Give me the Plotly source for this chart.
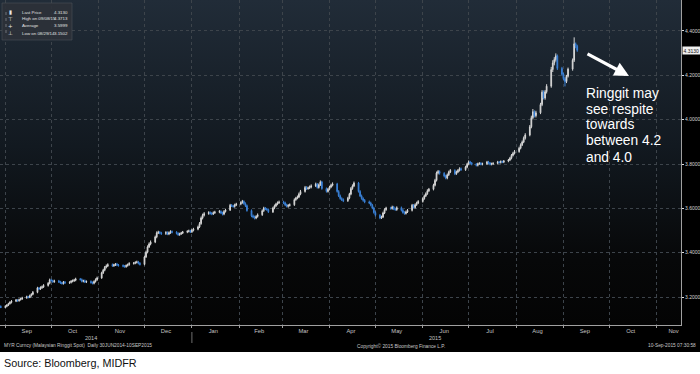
import base64
import pandas as pd
import plotly.graph_objects as go

# ---------------- data ----------------
dates = pd.bdate_range("2014-08-29", "2015-09-10")

close = [3.152,
 3.158, 3.163, 3.170, 3.176, 3.181,  3.186, 3.183, 3.188, 3.191, 3.196,
 3.201, 3.198, 3.206, 3.212, 3.221,  3.241, 3.236, 3.242, 3.246, 3.252,
 3.262, 3.277, 3.274, 3.269, 3.272,  3.268, 3.264, 3.261, 3.267, 3.264,
 3.266, 3.271, 3.273, 3.276, 3.281,  3.279, 3.271, 3.273, 3.268, 3.270,
 3.265, 3.262, 3.270, 3.278, 3.286,  3.309, 3.321, 3.334, 3.340, 3.346,
 3.341, 3.345, 3.348, 3.344, 3.342,  3.339, 3.337, 3.342, 3.346, 3.351,
 3.353, 3.356, 3.358, 3.352, 3.347,  3.381, 3.402, 3.426, 3.439, 3.448,
 3.471, 3.489, 3.492, 3.489, 3.486,  3.491, 3.484, 3.490, 3.495, 3.492,
 3.487, 3.481, 3.485, 3.489, 3.493,  3.496, 3.498, 3.494, 3.501, 3.506,
 3.516, 3.531, 3.556, 3.569, 3.576,  3.581, 3.577, 3.575, 3.580, 3.583,
 3.586, 3.579, 3.574, 3.586, 3.592,  3.614, 3.611, 3.608, 3.615, 3.619,
 3.626, 3.631, 3.621, 3.612, 3.590,  3.566, 3.561, 3.556, 3.563, 3.571,
 3.589, 3.601, 3.597, 3.594, 3.584,  3.601, 3.611, 3.619, 3.625, 3.628,
 3.624, 3.615, 3.609, 3.613, 3.616,  3.639, 3.646, 3.651, 3.664, 3.676,
 3.694, 3.689, 3.692, 3.696, 3.701,  3.709, 3.694, 3.706, 3.719, 3.689,
 3.676, 3.686, 3.696, 3.704, 3.710,  3.676, 3.656, 3.644, 3.639, 3.634,
 3.646, 3.664, 3.689, 3.701, 3.714,  3.676, 3.656, 3.644, 3.636, 3.629,
 3.624, 3.614, 3.601, 3.581, 3.569,  3.557, 3.561, 3.579, 3.594, 3.601,
 3.599, 3.606, 3.597, 3.594, 3.603,  3.591, 3.581, 3.577, 3.584, 3.591,
 3.614, 3.604, 3.616, 3.624, 3.631,  3.644, 3.656, 3.666, 3.679, 3.686,
 3.704, 3.726, 3.759, 3.766, 3.758,  3.746, 3.737, 3.751, 3.764, 3.771,
 3.756, 3.764, 3.771, 3.779, 3.774,  3.786, 3.799, 3.809, 3.804, 3.799,
 3.794, 3.801, 3.803, 3.799, 3.801,  3.809, 3.804, 3.799, 3.801, 3.803,
 3.809, 3.807, 3.811, 3.809, 3.813,  3.818, 3.826, 3.839, 3.848, 3.856,
 3.871, 3.886, 3.899, 3.916, 3.931,  3.968, 4.009, 4.036, 4.018, 4.031,
 4.068, 4.124, 4.098, 4.126, 4.151,  4.226, 4.256, 4.271, 4.288, 4.231,
 4.205, 4.185, 4.172, 4.196, 4.228,  4.268, 4.342, 4.331, 4.313]

open_ = [3.158,
 3.152, 3.158, 3.163, 3.170, 3.176,  3.181, 3.186, 3.183, 3.188, 3.191,
 3.196, 3.201, 3.198, 3.206, 3.212,  3.221, 3.241, 3.236, 3.242, 3.246,
 3.252, 3.262, 3.277, 3.274, 3.269,  3.272, 3.268, 3.264, 3.261, 3.267,
 3.264, 3.266, 3.271, 3.273, 3.276,  3.281, 3.279, 3.271, 3.273, 3.268,
 3.270, 3.265, 3.262, 3.270, 3.278,  3.286, 3.309, 3.321, 3.334, 3.340,
 3.346, 3.341, 3.345, 3.348, 3.344,  3.342, 3.339, 3.337, 3.342, 3.346,
 3.351, 3.353, 3.356, 3.358, 3.352,  3.347, 3.381, 3.402, 3.426, 3.439,
 3.448, 3.471, 3.489, 3.492, 3.489,  3.486, 3.491, 3.484, 3.490, 3.495,
 3.492, 3.487, 3.481, 3.485, 3.489,  3.493, 3.496, 3.498, 3.494, 3.501,
 3.506, 3.516, 3.531, 3.556, 3.569,  3.576, 3.581, 3.577, 3.575, 3.580,
 3.583, 3.586, 3.579, 3.574, 3.586,  3.592, 3.614, 3.611, 3.608, 3.615,
 3.619, 3.626, 3.631, 3.621, 3.612,  3.590, 3.566, 3.561, 3.556, 3.563,
 3.571, 3.589, 3.601, 3.597, 3.594,  3.584, 3.601, 3.611, 3.619, 3.625,
 3.628, 3.624, 3.615, 3.609, 3.613,  3.616, 3.639, 3.646, 3.651, 3.664,
 3.676, 3.694, 3.689, 3.692, 3.696,  3.701, 3.709, 3.694, 3.706, 3.719,
 3.689, 3.676, 3.686, 3.696, 3.704,  3.710, 3.676, 3.656, 3.644, 3.639,
 3.634, 3.646, 3.664, 3.689, 3.701,  3.714, 3.676, 3.656, 3.644, 3.636,
 3.629, 3.624, 3.614, 3.601, 3.581,  3.569, 3.557, 3.561, 3.579, 3.594,
 3.601, 3.599, 3.606, 3.597, 3.594,  3.603, 3.591, 3.581, 3.577, 3.584,
 3.591, 3.614, 3.604, 3.616, 3.624,  3.631, 3.644, 3.656, 3.666, 3.679,
 3.686, 3.704, 3.726, 3.759, 3.766,  3.758, 3.746, 3.737, 3.751, 3.764,
 3.771, 3.756, 3.764, 3.771, 3.779,  3.774, 3.786, 3.799, 3.809, 3.804,
 3.799, 3.794, 3.801, 3.803, 3.799,  3.801, 3.809, 3.804, 3.799, 3.801,
 3.803, 3.809, 3.807, 3.811, 3.809,  3.813, 3.818, 3.826, 3.839, 3.848,
 3.856, 3.871, 3.886, 3.899, 3.916,  3.931, 3.968, 4.009, 4.036, 4.018,
 4.031, 4.068, 4.124, 4.098, 4.126,  4.151, 4.226, 4.256, 4.271, 4.288,
 4.231, 4.205, 4.185, 4.172, 4.196,  4.228, 4.268, 4.342, 4.331]

high = [3.162,
 3.163, 3.168, 3.174, 3.181, 3.186,  3.191, 3.190, 3.193, 3.196, 3.201,
 3.206, 3.205, 3.211, 3.217, 3.227,  3.246, 3.245, 3.248, 3.252, 3.258,
 3.267, 3.283, 3.282, 3.278, 3.278,  3.277, 3.273, 3.269, 3.272, 3.272,
 3.271, 3.276, 3.279, 3.282, 3.287,  3.286, 3.284, 3.278, 3.279, 3.275,
 3.275, 3.270, 3.275, 3.284, 3.292,  3.314, 3.327, 3.340, 3.347, 3.352,
 3.351, 3.350, 3.353, 3.354, 3.349,  3.347, 3.344, 3.347, 3.351, 3.357,
 3.358, 3.361, 3.364, 3.363, 3.357,  3.387, 3.409, 3.433, 3.446, 3.455,
 3.477, 3.496, 3.499, 3.497, 3.494,  3.497, 3.496, 3.496, 3.501, 3.500,
 3.497, 3.492, 3.490, 3.494, 3.498,  3.501, 3.504, 3.503, 3.507, 3.512,
 3.522, 3.538, 3.563, 3.576, 3.583,  3.587, 3.586, 3.583, 3.586, 3.589,
 3.592, 3.591, 3.585, 3.592, 3.598,  3.620, 3.619, 3.616, 3.621, 3.625,
 3.632, 3.638, 3.636, 3.627, 3.617,  3.595, 3.572, 3.567, 3.569, 3.577,
 3.595, 3.607, 3.606, 3.602, 3.599,  3.607, 3.617, 3.625, 3.631, 3.635,
 3.634, 3.630, 3.621, 3.619, 3.622,  3.645, 3.652, 3.658, 3.671, 3.683,
 3.701, 3.700, 3.698, 3.703, 3.708,  3.716, 3.714, 3.712, 3.726, 3.724,
 3.694, 3.692, 3.702, 3.711, 3.717,  3.715, 3.682, 3.662, 3.650, 3.645,
 3.652, 3.670, 3.696, 3.708, 3.721,  3.719, 3.682, 3.662, 3.650, 3.642,
 3.635, 3.630, 3.620, 3.607, 3.587,  3.574, 3.567, 3.585, 3.600, 3.607,
 3.607, 3.612, 3.611, 3.603, 3.609,  3.608, 3.597, 3.587, 3.590, 3.597,
 3.620, 3.619, 3.622, 3.630, 3.637,  3.650, 3.662, 3.672, 3.686, 3.692,
 3.711, 3.733, 3.766, 3.773, 3.771,  3.763, 3.752, 3.757, 3.770, 3.777,
 3.776, 3.770, 3.777, 3.785, 3.784,  3.792, 3.805, 3.816, 3.814, 3.809,
 3.804, 3.806, 3.808, 3.808, 3.806,  3.814, 3.814, 3.809, 3.806, 3.808,
 3.814, 3.813, 3.816, 3.815, 3.818,  3.823, 3.832, 3.845, 3.855, 3.863,
 3.878, 3.893, 3.906, 3.924, 3.939,  3.976, 4.018, 4.048, 4.042, 4.040,
 4.076, 4.133, 4.132, 4.134, 4.160,  4.238, 4.268, 4.282, 4.299, 4.294,
 4.238, 4.212, 4.192, 4.202, 4.235,  4.276, 4.3713, 4.348, 4.338]

low = [3.1502,
 3.151, 3.154, 3.159, 3.166, 3.171,  3.177, 3.179, 3.179, 3.184, 3.187,
 3.192, 3.194, 3.195, 3.202, 3.208,  3.217, 3.231, 3.232, 3.237, 3.241,
 3.247, 3.257, 3.269, 3.264, 3.264,  3.263, 3.259, 3.256, 3.256, 3.259,
 3.259, 3.261, 3.266, 3.268, 3.271,  3.274, 3.266, 3.266, 3.263, 3.263,
 3.260, 3.257, 3.257, 3.265, 3.273,  3.282, 3.304, 3.316, 3.329, 3.335,
 3.336, 3.336, 3.340, 3.339, 3.337,  3.334, 3.332, 3.332, 3.337, 3.341,
 3.346, 3.348, 3.351, 3.347, 3.342,  3.343, 3.376, 3.397, 3.421, 3.433,
 3.443, 3.465, 3.484, 3.483, 3.480,  3.480, 3.479, 3.479, 3.485, 3.487,
 3.482, 3.476, 3.476, 3.480, 3.484,  3.488, 3.491, 3.489, 3.489, 3.496,
 3.501, 3.511, 3.526, 3.550, 3.563,  3.571, 3.572, 3.569, 3.570, 3.575,
 3.578, 3.574, 3.568, 3.569, 3.581,  3.588, 3.606, 3.603, 3.603, 3.610,
 3.614, 3.621, 3.616, 3.606, 3.585,  3.560, 3.555, 3.550, 3.551, 3.558,
 3.566, 3.584, 3.592, 3.589, 3.579,  3.579, 3.596, 3.606, 3.614, 3.620,
 3.619, 3.610, 3.604, 3.603, 3.608,  3.611, 3.634, 3.641, 3.646, 3.659,
 3.671, 3.683, 3.684, 3.687, 3.690,  3.696, 3.689, 3.689, 3.701, 3.684,
 3.671, 3.671, 3.681, 3.691, 3.699,  3.671, 3.651, 3.639, 3.633, 3.628,
 3.629, 3.641, 3.659, 3.684, 3.696,  3.671, 3.651, 3.639, 3.630, 3.623,
 3.619, 3.609, 3.596, 3.576, 3.563,  3.551, 3.552, 3.556, 3.574, 3.589,
 3.594, 3.594, 3.592, 3.589, 3.589,  3.586, 3.576, 3.571, 3.572, 3.579,
 3.586, 3.599, 3.599, 3.611, 3.619,  3.626, 3.639, 3.651, 3.661, 3.674,
 3.681, 3.699, 3.721, 3.753, 3.752,  3.740, 3.731, 3.731, 3.746, 3.759,
 3.750, 3.751, 3.759, 3.766, 3.769,  3.769, 3.781, 3.794, 3.799, 3.794,
 3.789, 3.789, 3.796, 3.794, 3.794,  3.796, 3.799, 3.794, 3.794, 3.796,
 3.798, 3.802, 3.802, 3.804, 3.804,  3.808, 3.813, 3.821, 3.834, 3.843,
 3.851, 3.866, 3.881, 3.894, 3.910,  3.925, 3.961, 4.001, 4.010, 4.010,
 4.025, 4.061, 4.091, 4.090, 4.118,  4.144, 4.215, 4.245, 4.262, 4.224,
 4.198, 4.178, 4.150, 4.165, 4.190,  4.221, 4.260, 4.322, 4.306]

month_ticks = ["2014-09-15", "2014-10-15", "2014-11-15", "2014-12-15",
               "2015-01-15", "2015-02-14", "2015-03-15", "2015-04-15",
               "2015-05-15", "2015-06-15", "2015-07-15", "2015-08-15",
               "2015-09-15", "2015-10-15", "2015-11-12"]
month_labels = ["Sep", "Oct", "Nov", "Dec", "Jan", "Feb", "Mar", "Apr",
                "May", "Jun", "Jul", "Aug", "Sep", "Oct", "Nov"]
price_ticks = [3.2, 3.4, 3.6, 3.8, 4.0, 4.2, 4.4]

legend_labels = ["Last Price", "High on 09/08/15", "Average", "Low on 08/29/14"]
legend_values = ["4.3130", "4.3713", "3.5999", "3.1502"]
legend_icons = ["\u25AE", "\u22A4", "+", "\u22A5"]
last_price = 4.3130

assert len(dates) == len(close) == len(open_) == len(high) == len(low), (
    len(dates), len(close), len(open_), len(high), len(low))

# ---------------- layout helpers ----------------
W, H = 700, 374
ML, MR, MT, MB = 0, 19, 0, 49
PW, PH = W - ML - MR, H - MT - MB


def px(x):
    return x / PW


def py(y):
    return 1 - y / PH


FONT = "Liberation Sans, Arial, sans-serif"

svg = ("<svg xmlns='http://www.w3.org/2000/svg' width='10' height='100' "
       "preserveAspectRatio='none'><defs><linearGradient id='g' x1='0' y1='0' "
       "x2='0' y2='1'><stop offset='0' stop-color='#212c38'/>"
       "<stop offset='0.45' stop-color='#121920'/>"
       "<stop offset='0.8' stop-color='#070809'/>"
       "<stop offset='1' stop-color='#040404'/></linearGradient></defs>"
       "<rect width='10' height='100' fill='url(#g)'/></svg>")
svg_uri = "data:image/svg+xml;base64," + base64.b64encode(svg.encode()).decode()

fig = go.Figure()
fig.add_trace(go.Candlestick(
    x=dates, open=open_, high=high, low=low, close=close,
    increasing=dict(line=dict(color="#d6d6d6", width=1), fillcolor="#d6d6d6"),
    decreasing=dict(line=dict(color="#3a80d6", width=1), fillcolor="#3a80d6"),
    whiskerwidth=0, hoverinfo="skip", showlegend=False,
))

annotations = []
# arrow
annotations.append(dict(xref="paper", yref="paper", x=px(629), y=py(76),
                        ax=-43, ay=-23, axref="pixel", ayref="pixel",
                        showarrow=True, arrowhead=2, arrowsize=0.9,
                        arrowwidth=3.2, arrowcolor="white", text=""))
note_lines = ["Ringgit may", "see respite", "towards", "between 4.2", "and 4.0"]
for i, t in enumerate(note_lines):
    annotations.append(dict(xref="paper", yref="paper", x=px(584), y=py(93 + 16 * i),
                            xanchor="left", yanchor="middle", showarrow=False,
                            text=t, font=dict(family=FONT, size=13.8, color="white")))
# last price box
annotations.append(dict(xref="paper", yref="y", x=px(682), y=last_price,
                        xanchor="left", yanchor="middle", showarrow=False,
                        text="4.3130", bgcolor="#f0f0f0", borderpad=0.5,
                        font=dict(family=FONT, size=5, color="#111111")))
# legend
for i, (ic, lab, val) in enumerate(zip(legend_icons, legend_labels, legend_values)):
    yy = py(12 + 7 * i)
    annotations.append(dict(xref="paper", yref="paper", x=px(10.5), y=yy,
                            xanchor="center", yanchor="middle", showarrow=False,
                            text=ic, font=dict(family="DejaVu Sans", size=5.5, color="#e8e8e8")))
    annotations.append(dict(xref="paper", yref="paper", x=px(19.5), y=yy,
                            xanchor="left", yanchor="middle", showarrow=False,
                            text=lab, font=dict(family=FONT, size=4.4, color="#e0e0e0")))
    annotations.append(dict(xref="paper", yref="paper", x=px(70), y=yy,
                            xanchor="right", yanchor="middle", showarrow=False,
                            text=val, font=dict(family=FONT, size=4.4, color="#e0e0e0")))
# year labels
annotations.append(dict(xref="x", yref="paper", x="2014-10-27", y=py(338),
                        xanchor="center", yanchor="middle", showarrow=False,
                        text="2014", font=dict(family=FONT, size=5.5, color="#c4c4c4")))
annotations.append(dict(xref="x", yref="paper", x="2015-06-09", y=py(338),
                        xanchor="center", yanchor="middle", showarrow=False,
                        text="2015", font=dict(family=FONT, size=5.5, color="#c4c4c4")))
# footer
foot_font = dict(family=FONT, size=4.8, color="#c8c8c8")
annotations.append(dict(xref="paper", yref="paper", x=px(2), y=py(345.5),
                        xanchor="left", yanchor="middle", showarrow=False,
                        text="MYR Curncy (Malaysian Ringgit Spot)  Daily 30JUN2014-10SEP2015",
                        font=foot_font))
annotations.append(dict(xref="paper", yref="paper", x=px(355), y=py(345.5),
                        xanchor="left", yanchor="middle", showarrow=False,
                        text="Copyright\u00a9 2015 Bloomberg Finance L.P.", font=foot_font))
annotations.append(dict(xref="paper", yref="paper", x=px(698), y=py(345.5),
                        xanchor="right", yanchor="middle", showarrow=False,
                        text="10-Sep-2015 07:30:58", font=foot_font))
annotations.append(dict(xref="paper", yref="paper", x=px(2), y=py(362.5),
                        xanchor="left", yanchor="middle", showarrow=False,
                        text="Source: Bloomberg, MIDFR",
                        font=dict(family=FONT, size=10.8, color="#111111")))

shapes = [
    # white band at the bottom
    dict(type="rect", xref="paper", yref="paper", x0=-0.05, x1=1.1,
         y0=py(380), y1=py(352), fillcolor="white", line=dict(width=0), layer="above"),
    # legend box
    dict(type="rect", xref="paper", yref="paper", x0=px(2), x1=px(72),
         y0=py(40), y1=py(3), fillcolor="rgba(44,49,56,0.92)",
         line=dict(color="#4a5058", width=0.6), layer="above"),
    # legend tree line
    dict(type="line", xref="paper", yref="paper", x0=px(6), x1=px(6),
         y0=py(33), y1=py(12), line=dict(color="#9aa0a6", width=0.6, dash="dot"),
         layer="above"),
    # year separator
    dict(type="line", xref="x", yref="paper", x0="2015-01-01", x1="2015-01-01",
         y0=py(332), y1=py(343), line=dict(color="#8a8a8a", width=0.8), layer="above"),
]

fig.update_layout(
    width=W, height=H,
    margin=dict(l=ML, r=MR, t=MT, b=MB, pad=0, autoexpand=False),
    paper_bgcolor="black", plot_bgcolor="rgba(0,0,0,0)",
    showlegend=False,
    images=[dict(source=svg_uri, xref="paper", yref="paper", x=0, y=1,
                 sizex=1, sizey=1, sizing="stretch", xanchor="left",
                 yanchor="top", layer="below")],
    xaxis=dict(
        type="date", range=["2014-08-28 12:00", "2015-11-16 21:00"],
        tickmode="array", tickvals=month_ticks, ticktext=month_labels,
        showgrid=False, ticks="", automargin=False,
        tickfont=dict(family=FONT, size=5.8, color="#c4c4c4"),
        showline=True, linecolor="#a0a0a0", linewidth=1, zeroline=False,
        rangeslider=dict(visible=False), fixedrange=True,
        minor=dict(tickmode="linear", tick0="2014-09-01", dtick="M1",
                   showgrid=True, gridcolor="#3d444b", griddash="dot", gridwidth=1,
                   ticks="outside", ticklen=2, tickcolor="#a0a0a0"),
    ),
    yaxis=dict(
        side="right", range=[3.0737, 4.5398], tickmode="array",
        tickvals=price_ticks, tickformat=".4f", ticks="outside", ticklen=2,
        tickcolor="#e0e0e0", showline=True, linecolor="#a0a0a0", linewidth=1,
        showgrid=True, gridcolor="#3d444b", griddash="dot", gridwidth=1,
        zeroline=False, automargin=False, fixedrange=True,
        tickfont=dict(family=FONT, size=5, color="#d6d6d6"),
    ),
    annotations=annotations,
    shapes=shapes,
)

fig.write_html("out.html",
               config={"displayModeBar": False, "staticPlot": True},
               post_script="document.body.style.margin='0';"
                           "document.body.style.overflow='hidden';")
